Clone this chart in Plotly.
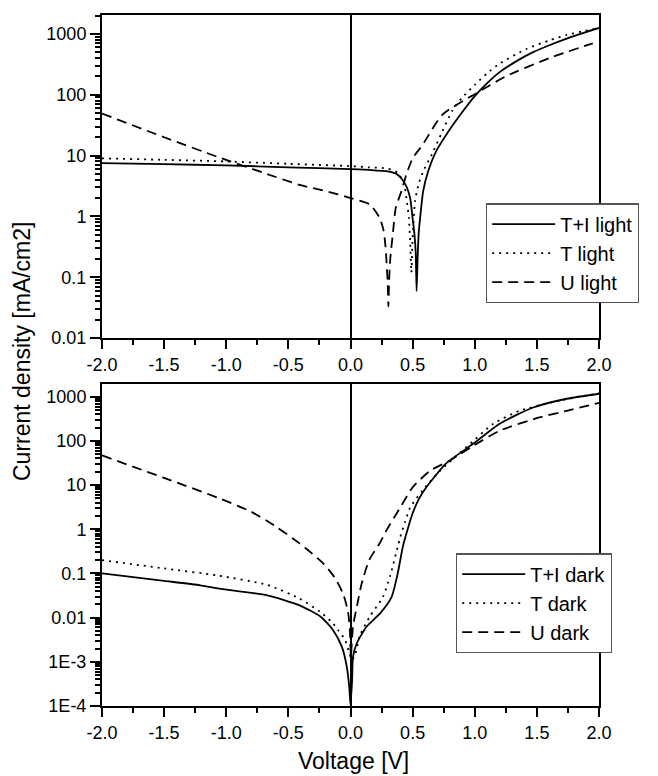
import plotly.graph_objects as go

# ---------------- data ----------------
# Top panel: illuminated J-V curves
V_TI_LIGHT = [-2.0, -1.5, -1.0, -0.5, 0.0, 0.15, 0.3, 0.37, 0.41, 0.45, 0.48, 0.50, 0.515, 0.525, 0.532,
              0.54, 0.548, 0.56, 0.585, 0.625, 0.69, 0.8, 0.9, 1.0, 1.1, 1.2, 1.35, 1.47, 1.6, 1.74, 1.87, 2.0]
J_TI_LIGHT = [7.5, 7.2, 6.9, 6.4, 6.0, 5.8, 5.5, 5.0, 4.2, 3.1, 2.0, 0.93, 0.5, 0.25, 0.059,
              0.2, 0.5, 0.93, 2.6, 5.5, 11.8, 27, 52, 95, 155, 235, 370, 500, 650, 835, 1030, 1250]

V_T_LIGHT = [-2.0, -1.5, -1.0, -0.5, 0.0, 0.15, 0.3, 0.38, 0.43, 0.45, 0.47, 0.48, 0.49, 0.50, 0.52,
             0.55, 0.585, 0.65, 0.74, 0.82, 0.9, 1.0, 1.1, 1.2, 1.42, 1.6, 1.74, 1.87, 2.0]
J_T_LIGHT = [9.0, 8.5, 8.0, 7.3, 6.7, 6.4, 6.1, 5.2, 3.5, 2.0, 0.93, 0.39, 0.12, 0.45, 1.8,
             3.5, 5.5, 10, 25, 55, 90, 145, 225, 325, 570, 780, 960, 1100, 1250]

V_U_LIGHT = [-2.0, -1.5, -1.07, -0.7, -0.41, -0.2, 0.0, 0.156, 0.236, 0.265, 0.28, 0.29, 0.30, 0.305,
             0.31, 0.32, 0.34, 0.365, 0.41, 0.45, 0.50, 0.58, 0.74, 1.01, 1.25, 1.6, 1.95]
J_U_LIGHT = [49, 20, 9.5, 5.2, 3.3, 2.6, 2.0, 1.57, 0.93, 0.6, 0.35, 0.18, 0.075, 0.033,
             0.08, 0.2, 0.5, 1.4, 2.6, 4.9, 9, 15, 47, 105, 200, 400, 700]

# Bottom panel: dark J-V curves
V_TI_DARK = [-2.0, -1.5, -1.21, -1.07, -0.67, -0.41, -0.24, -0.14, -0.07, -0.03, -0.01, 0.0, 0.013,
             0.02, 0.05, 0.13, 0.24, 0.33, 0.38, 0.42, 0.46, 0.5, 0.55, 0.61, 0.77, 0.99, 1.2, 1.47, 1.74, 2.0]
J_TI_DARK = [0.1, 0.068, 0.054, 0.046, 0.032, 0.019, 0.0105, 0.0052, 0.0022, 7.8e-4, 2.7e-4, 1.05e-4, 3.9e-4,
             1.3e-3, 0.0026, 0.0063, 0.0126, 0.029, 0.1, 0.39, 1.0, 2.3, 4.8, 8.9, 31, 87, 245, 570, 900, 1170]

V_T_DARK = [-2.0, -1.5, -1.07, -0.67, -0.41, -0.245, -0.15, -0.1, -0.045, -0.015, 0.01, 0.035, 0.075,
            0.155, 0.26, 0.32, 0.38, 0.4, 0.44, 0.48, 0.58, 0.72, 0.93, 1.15, 1.36, 1.63, 2.0]
J_T_DARK = [0.2, 0.13, 0.09, 0.055, 0.027, 0.0135, 0.0079, 0.0052, 0.0032, 0.0018, 1.1e-3, 1.4e-3, 0.0039,
            0.0105, 0.029, 0.09, 0.4, 0.66, 1.5, 3.1, 7.6, 21, 71, 245, 480, 760, 1200]

V_U_DARK = [-2.0, -1.5, -1.07, -0.8, -0.6, -0.41, -0.22, -0.13, -0.06, -0.02, -0.005, 0.003, 0.02,
            0.05, 0.09, 0.15, 0.24, 0.29, 0.4, 0.5, 0.64, 0.8, 0.99, 1.2, 1.52, 1.74, 2.0]
J_U_DARK = [47, 14.5, 5.2, 2.5, 1.15, 0.48, 0.17, 0.083, 0.035, 0.0136, 0.0052, 0.0013, 0.0063,
            0.017, 0.059, 0.2, 0.51, 0.95, 3.1, 8.9, 21, 36, 78, 170, 340, 480, 730]

NAMES_LIGHT = ["T+I light", "T light", "U light"]
NAMES_DARK = ["T+I dark", "T dark", "U dark"]

X_TICKVALS = [-2.0, -1.5, -1.0, -0.5, 0.0, 0.5, 1.0, 1.5, 2.0]
X_TICKTEXT = ["-2.0", "-1.5", "-1.0", "-0.5", "0.0", "0.5", "1.0", "1.5", "2.0"]
Y1_TICKVALS = [0.01, 0.1, 1, 10, 100, 1000]
Y1_TICKTEXT = ["0.01", "0.1", "1", "10", "100", "1000"]
Y2_TICKVALS = [1e-4, 1e-3, 0.01, 0.1, 1, 10, 100, 1000]
Y2_TICKTEXT = ["1E-4", "1E-3", "0.01", "0.1", "1", "10", "100", "1000"]

# ---------------- figure ----------------
# The page body has an 8px margin, so the figure is 8px smaller and shifted accordingly.
FONT = "Liberation Sans, Arial, Helvetica, sans-serif"
DASHES = ["solid", "2px,5px", "10px,6px"]
LW = 1.8

fig = go.Figure()

light = [(V_TI_LIGHT, J_TI_LIGHT), (V_T_LIGHT, J_T_LIGHT), (V_U_LIGHT, J_U_LIGHT)]
dark = [(V_TI_DARK, J_TI_DARK), (V_T_DARK, J_T_DARK), (V_U_DARK, J_U_DARK)]

for (v, j), name, dash in zip(light, NAMES_LIGHT, DASHES):
    fig.add_trace(go.Scatter(x=v, y=j, mode="lines", name=name, xaxis="x", yaxis="y",
                             line=dict(color="black", width=LW, dash=dash, shape="spline", smoothing=0.6),
                             legend="legend"))
for (v, j), name, dash in zip(dark, NAMES_DARK, DASHES):
    fig.add_trace(go.Scatter(x=v, y=j, mode="lines", name=name, xaxis="x2", yaxis="y2",
                             line=dict(color="black", width=LW, dash=dash, shape="spline", smoothing=0.6),
                             legend="legend2"))


def minor_vals(lo, hi):
    vals = []
    for e in range(lo, hi + 1):
        for m in range(2, 10):
            vals.append(m * 10 ** e)
    return vals


xcommon = dict(range=[-2.0, 2.0], tickmode="array", tickvals=X_TICKVALS, ticktext=X_TICKTEXT,
               ticks="outside", ticklen=9, tickwidth=1.5, tickcolor="black",
               minor=dict(tickmode="linear", tick0=-2.0, dtick=0.25, ticks="outside", ticklen=5,
                          tickwidth=1.5, tickcolor="black", showgrid=False),
               showline=True, linecolor="black", linewidth=2, mirror=True,
               showgrid=False, zeroline=True, zerolinecolor="black", zerolinewidth=2,
               tickfont=dict(family=FONT, size=18, color="black"))
ycommon = dict(type="log", ticks="outside", ticklen=10, tickwidth=1.5, tickcolor="black",
               showline=True, linecolor="black", linewidth=2, mirror=True,
               showgrid=False, zeroline=False, tickmode="array",
               tickfont=dict(family=FONT, size=18, color="black"))

legend_common = dict(xanchor="left", yanchor="top", bgcolor="white", bordercolor="#555555",
                     borderwidth=1.2, font=dict(family=FONT, size=20, color="black"),
                     itemwidth=63, tracegroupgap=0)

fig.update_layout(
    width=650, height=768,
    margin=dict(l=94, r=59, t=5, b=70),
    paper_bgcolor="white", plot_bgcolor="white",
    font=dict(family=FONT, color="black"),
    xaxis=dict(domain=[0, 1], anchor="y", **xcommon),
    xaxis2=dict(domain=[0, 1], anchor="y2", **xcommon),
    yaxis=dict(domain=[0.5325, 1.0], anchor="x", range=[-2, 3.31],
               tickvals=Y1_TICKVALS, ticktext=Y1_TICKTEXT,
               minor=dict(tickmode="array", tickvals=minor_vals(-2, 3), ticks="outside", ticklen=5,
                          tickwidth=1.5, tickcolor="black", showgrid=False),
               **ycommon),
    yaxis2=dict(domain=[0.0, 0.4661], anchor="x2", range=[-4, 3.29],
                tickvals=Y2_TICKVALS, ticktext=Y2_TICKTEXT,
                minor=dict(tickmode="array", tickvals=minor_vals(-4, 3), ticks="outside", ticklen=5,
                           tickwidth=1.5, tickcolor="black", showgrid=False),
                **ycommon),
    legend=dict(x=0.7726, y=0.7273, **legend_common),
    legend2=dict(x=0.7123, y=0.2208, **legend_common),
    showlegend=True,
    annotations=[
        dict(text="Current density [mA/cm2]", xref="paper", yref="paper",
             x=-0.161, y=0.5137, xanchor="center", yanchor="middle", textangle=-90,
             showarrow=False, font=dict(family=FONT, size=23, color="black")),
        dict(text="Voltage [V]", xref="paper", yref="paper",
             x=0.507, y=-0.0794, xanchor="center", yanchor="middle",
             showarrow=False, font=dict(family=FONT, size=23, color="black")),
    ],
)

fig.write_html("out.html")
